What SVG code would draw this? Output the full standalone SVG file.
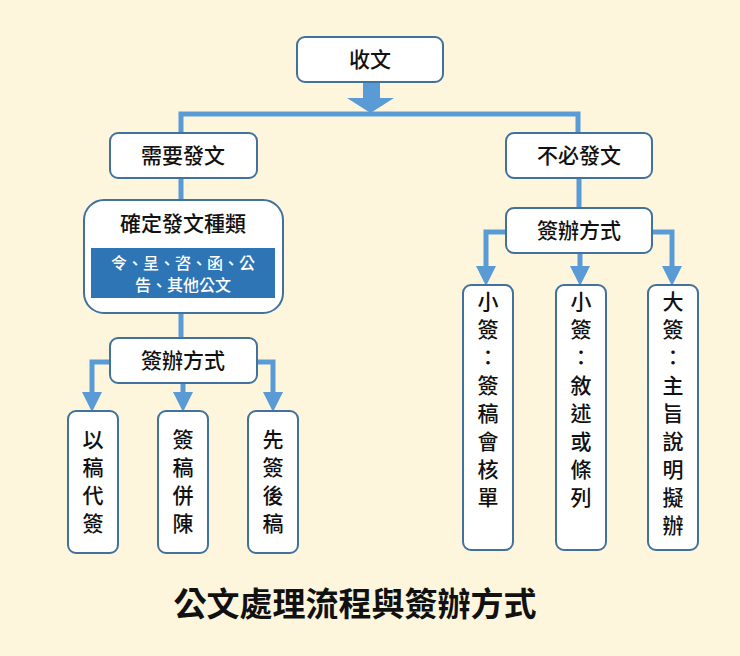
<svg xmlns="http://www.w3.org/2000/svg" width="740" height="656" viewBox="0 0 740 656">
<defs>
<style>
.n{fill:#fff;stroke:#41719c;stroke-width:2}
.t{font-family:"Noto Sans CJK TC",sans-serif;font-size:21px;font-weight:500;fill:#111;text-anchor:middle}
.c{fill:none;stroke:#5b9bd5;stroke-width:5}
</style>
<marker id="a" markerWidth="4" markerHeight="4" refX="2" refY="2" orient="auto" markerUnits="strokeWidth"><path d="M0,0L4,2L0,4z" fill="#5b9bd5"/></marker>
</defs>
<rect width="740" height="656" fill="#fdf6dc"/>
<g id="connectors">
<path d="M363,82h17v16h14l-23.5,15l-23.5,-15h16z" fill="#5b9bd5"/>
<path class="c" d="M181,133V114H578V133"/>
<path class="c" d="M181,178V200"/>
<path class="c" d="M181,313V338"/>
<path class="c" d="M110,362H92V402" marker-end="url(#a)"/>
<path class="c" d="M183,383V402" marker-end="url(#a)"/>
<path class="c" d="M257,362H273V402" marker-end="url(#a)"/>
<path class="c" d="M579,178V208"/>
<path class="c" d="M506,232H486V276" marker-end="url(#a)"/>
<path class="c" d="M580,253V276" marker-end="url(#a)"/>
<path class="c" d="M652,232H672V276" marker-end="url(#a)"/>
</g>
<g id="n1"><rect class="n" x="297" y="37" width="146" height="45" rx="8"/><text class="t" x="370" y="67">收文</text></g>
<g id="n2"><rect class="n" x="110" y="133" width="147" height="45" rx="8"/><text class="t" x="183" y="163">需要發文</text></g>
<g id="n3"><rect class="n" x="506" y="133" width="146" height="45" rx="8"/><text class="t" x="579" y="163">不必發文</text></g>
<g id="n4"><rect class="n" x="84" y="200" width="199" height="113" rx="20"/><text class="t" x="183" y="231">確定發文種類</text>
<rect x="91" y="248" width="184" height="50" fill="#2e75b6"/>
<text class="t" x="183" y="269" style="font-size:16px;fill:#fff">令、呈、咨、函、公</text>
<text class="t" x="183" y="291" style="font-size:16px;fill:#fff">告、其他公文</text></g>
<g id="n5"><rect class="n" x="110" y="338" width="147" height="45" rx="8"/><text class="t" x="183" y="368">簽辦方式</text></g>
<g id="n6"><rect class="n" x="506" y="208" width="146" height="45" rx="8"/><text class="t" x="579" y="238">簽辦方式</text></g>
<g id="n7"><rect class="n" x="68" y="411" width="50" height="142" rx="8"/><text class="t" x="93"><tspan x="93" y="447">以</tspan><tspan x="93" y="475">稿</tspan><tspan x="93" y="503">代</tspan><tspan x="93" y="531">簽</tspan></text></g>
<g id="n8"><rect class="n" x="158" y="411" width="50" height="142" rx="8"/><text class="t" x="183"><tspan x="183" y="447">簽</tspan><tspan x="183" y="475">稿</tspan><tspan x="183" y="503">併</tspan><tspan x="183" y="531">陳</tspan></text></g>
<g id="n9"><rect class="n" x="248" y="411" width="50" height="142" rx="8"/><text class="t" x="273"><tspan x="273" y="447">先</tspan><tspan x="273" y="475">簽</tspan><tspan x="273" y="503">後</tspan><tspan x="273" y="531">稿</tspan></text></g>
<g id="n10"><rect class="n" x="463" y="285" width="50" height="265" rx="8"/><text class="t" x="488"><tspan x="488" y="309">小</tspan><tspan x="488" y="337">簽</tspan><tspan x="488" y="365">：</tspan><tspan x="488" y="393">簽</tspan><tspan x="488" y="421">稿</tspan><tspan x="488" y="449">會</tspan><tspan x="488" y="477">核</tspan><tspan x="488" y="505">單</tspan></text></g>
<g id="n11"><rect class="n" x="556" y="285" width="50" height="265" rx="8"/><text class="t" x="581"><tspan x="581" y="309">小</tspan><tspan x="581" y="337">簽</tspan><tspan x="581" y="365">：</tspan><tspan x="581" y="393">敘</tspan><tspan x="581" y="421">述</tspan><tspan x="581" y="449">或</tspan><tspan x="581" y="477">條</tspan><tspan x="581" y="505">列</tspan></text></g>
<g id="n12"><rect class="n" x="648" y="285" width="50" height="265" rx="8"/><text class="t" x="673"><tspan x="673" y="309">大</tspan><tspan x="673" y="337">簽</tspan><tspan x="673" y="365">：</tspan><tspan x="673" y="393">主</tspan><tspan x="673" y="421">旨</tspan><tspan x="673" y="449">說</tspan><tspan x="673" y="477">明</tspan><tspan x="673" y="505">擬</tspan><tspan x="673" y="533">辦</tspan></text></g>
<text class="t" x="355" y="616" style="font-size:33px;font-weight:bold">公文處理流程與簽辦方式</text>
</svg>
